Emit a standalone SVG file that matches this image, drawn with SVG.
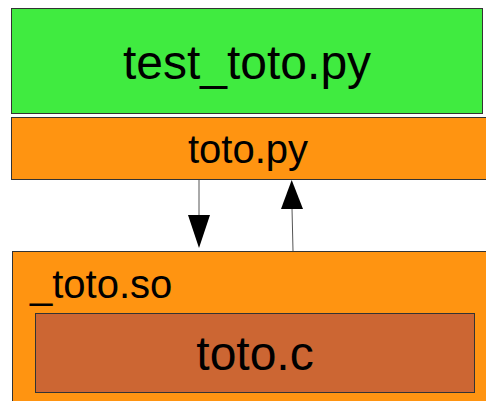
<svg xmlns="http://www.w3.org/2000/svg" width="486" height="401" viewBox="0 0 486 401">
<style>
  text { font-family: "Liberation Sans", Arial, sans-serif; fill: #000; }
  .box { stroke: #333; stroke-width: 1; }
  .edge { stroke: #555; stroke-width: 1; fill: none; }
  .head { fill: #000; }
</style>
<rect width="486" height="401" fill="#fff"/>
<g id="test_toto">
  <rect class="box" x="11.5" y="8.5" width="471" height="105" fill="#40eb40"/>
  <text x="247" y="79" font-size="48" text-anchor="middle">test_toto.py</text>
</g>
<g id="toto_py">
  <rect class="box" x="11.5" y="117.5" width="480" height="62" fill="#ff9411"/>
  <text x="248" y="163" font-size="40" text-anchor="middle">toto.py</text>
</g>
<g id="toto_so">
  <rect class="box" x="12.5" y="251.5" width="480" height="160" fill="#ff9411"/>
  <text x="30" y="298" font-size="40">_toto.so</text>
</g>
<g id="toto_c">
  <rect class="box" x="35.5" y="313.5" width="439" height="79" fill="#cc6633"/>
  <text x="255" y="370" font-size="48" text-anchor="middle">toto.c</text>
</g>
<g id="connectors">
  <line class="edge" x1="199" y1="180" x2="199" y2="216"/>
  <path class="head" d="M188,215 L210,215 L199,248 Z"/>
  <line class="edge" x1="293" y1="251" x2="292" y2="208"/>
  <path class="head" d="M281,209 L303,209 L291.7,180 Z"/>
</g>
</svg>
